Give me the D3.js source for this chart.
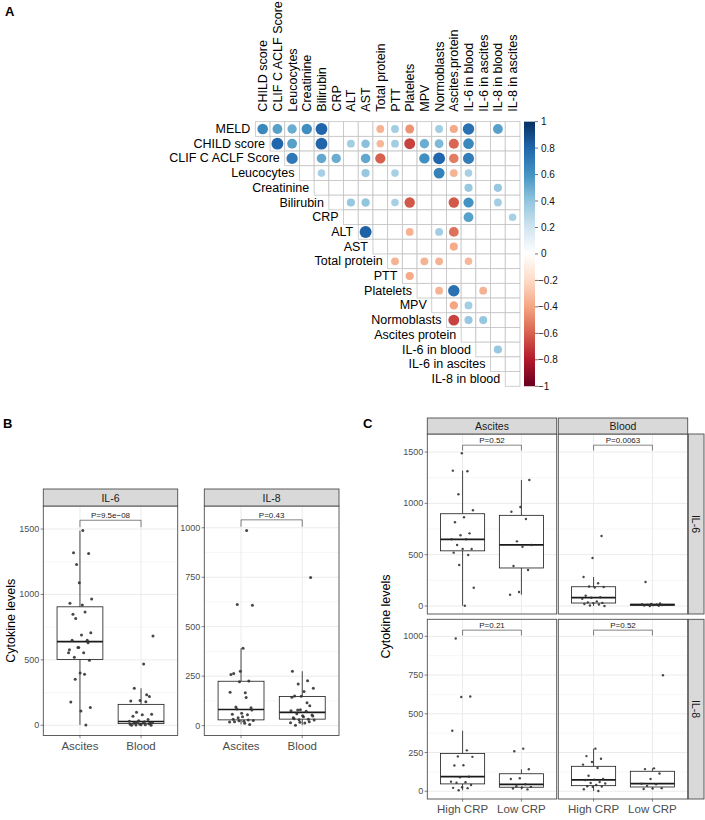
<!DOCTYPE html>
<html><head><meta charset="utf-8">
<script src="https://cdn.jsdelivr.net/npm/d3@7"></script>
<style>body{margin:0;background:#fff}svg{display:block;font-family:"Liberation Sans",Arial,Helvetica,sans-serif}</style>
</head><body><svg id="c" width="705" height="820"></svg>
<script>
// ---------------- DATA ----------------
const rowLabels = ["MELD","CHILD score","CLIF C ACLF Score","Leucocytes","Creatinine","Bilirubin","CRP","ALT","AST","Total protein","PTT","Platelets","MPV","Normoblasts","Ascites protein","IL-6 in blood","IL-6 in ascites","IL-8 in blood"];
const colLabels = ["CHILD score","CLIF C ACLF Score","Leucocytes","Creatinine","Bilirubin","CRP","ALT","AST","Total protein","PTT","Platelets","MPV","Normoblasts","Ascites.protein","IL-6 in blood","IL-6 in ascites","IL-8 in blood","IL-8 in ascites"];
// [row index, column index, correlation]
const corrValues = [
 [0,0,0.65],[0,1,0.55],[0,2,0.5],[0,3,0.62],[0,4,0.8],[0,8,-0.35],[0,9,0.35],[0,10,-0.45],[0,12,0.35],[0,13,-0.38],[0,14,0.75],[0,16,0.55],
 [1,1,0.8],[1,2,0.55],[1,4,0.8],[1,6,0.35],[1,7,0.42],[1,8,-0.33],[1,9,0.35],[1,10,-0.68],[1,11,0.5],[1,12,0.45],[1,13,-0.58],[1,14,0.65],
 [2,2,0.72],[2,4,0.52],[2,5,0.5],[2,7,0.52],[2,8,-0.6],[2,11,0.62],[2,12,0.8],[2,13,-0.52],[2,14,0.7],
 [3,4,0.33],[3,7,0.38],[3,9,0.33],[3,12,0.68],[3,13,-0.35],[3,14,0.33],
 [4,14,0.38],[4,16,0.38],
 [5,6,0.38],[5,7,0.4],[5,9,0.33],[5,10,-0.62],[5,13,-0.62],[5,14,0.6],[5,16,0.35],
 [6,14,0.55],[6,17,0.33],
 [7,7,0.82],[7,10,-0.35],[7,12,0.35],[7,13,-0.55],
 [8,13,-0.38],
 [9,9,-0.35],[9,11,-0.35],[9,12,-0.35],[9,14,-0.33],
 [10,10,-0.38],
 [11,12,-0.35],[11,13,0.75],[11,15,-0.35],
 [12,13,-0.4],[12,14,0.35],
 [13,13,-0.68],[13,14,0.38],[13,15,0.38],
 [15,16,0.38]
];
const colorbarTicks = [1,0.8,0.6,0.4,0.2,0,-0.2,-0.4,-0.6,-0.8,-1];
const rdbu = ["#67001F","#B2182B","#D6604D","#F4A582","#FDDBC7","#FFFFFF","#D1E5F0","#92C5DE","#4393C3","#2166AC","#053061"];

// Cytokine levels by CRP group
const il6AscitesHighCRP = [1488,1319,1313,1089,933,865,816,708,690,650,650,595,555,555,520,497,400,178,3];
const il6AscitesLowCRP  = [1228,965,919,848,630,595,578,390,351,136,110];
const il6BloodHighCRP   = [682,468,283,221,190,185,180,100,85,81,70,45,35,30,28,20,15,5,0];
const il6BloodLowCRP    = [234,25,20,18,15,12,10,8,5,3,0];
const il8AscitesHighCRP = [986,612,608,391,264,225,222,168,166,94,90,62,58,55,40,26,22,20,6];
const il8AscitesLowCRP  = [275,258,142,84,79,45,32,28,24,18,12];
const il8BloodHighCRP   = [275,227,210,189,172,150,100,80,75,73,60,53,50,40,32,30,28,13,2];
const il8BloodLowCRP    = [749,148,143,115,79,49,45,35,20,17,15];

const sites = ["Ascites","Blood"];
const crpGroups = ["High CRP","Low CRP"];
const cytokines = ["IL-6","IL-8"];
const il6Ticks = [0,500,1000,1500];
const il8Ticks = [0,250,500,750,1000];
const il6Domain = [-78,1676];
const il8Domain = [-50,1110];
const bracketLevels = [1567,1040];
const pLabelsB = ["P=9.5e\u221208","P=0.43"];
const pLabelsC = [["P=0.52","P=0.0063"],["P=0.21","P=0.52"]];

// ---------------- DRAW ----------------
const svg = d3.select("#c");
svg.append("rect").attr("width",705).attr("height",820).attr("fill","#fff");

// ===== Panel A: correlation matrix =====
const cell = 14.7;
const gx0 = 255.35, gy0 = 121.65;
const xA = d3.scaleBand().domain(colLabels).range([gx0, gx0 + cell*colLabels.length]);
const yA = d3.scaleBand().domain(rowLabels).range([gy0, gy0 + cell*rowLabels.length]);
const corrColor = d3.scaleLinear().domain(d3.range(11).map(i => -1 + i*0.2)).range(rdbu).interpolate(d3.interpolateRgb);

const gA = svg.append("g");
rowLabels.forEach((r,i) => {
  colLabels.forEach((c,j) => {
    if (j >= i) {
      gA.append("rect").attr("x", xA(c)).attr("y", yA(r)).attr("width", cell).attr("height", cell)
        .attr("fill","#fff").attr("stroke","#C4C4C4").attr("stroke-width",0.8);
    }
  });
});
corrValues.forEach(([i,j,v]) => {
  gA.append("circle")
    .attr("cx", xA(colLabels[j]) + cell/2)
    .attr("cy", yA(rowLabels[i]) + cell/2)
    .attr("r", 0.45*Math.sqrt(Math.abs(v))*cell)
    .attr("fill", corrColor(v));
});
rowLabels.forEach((r,i) => {
  gA.append("text").attr("x", xA(colLabels[i]) - 5).attr("y", yA(r) + cell/2)
    .attr("text-anchor","end").attr("dominant-baseline","central")
    .attr("font-size",12.5).attr("fill","#000").text(r);
});
colLabels.forEach((c) => {
  const cx = xA(c) + cell/2 + 4.5;
  gA.append("text").attr("transform", `translate(${cx},${gy0-10}) rotate(-90)`)
    .attr("text-anchor","start").attr("font-size",12.5).attr("fill","#000").text(c);
});
// colour bar
const defs = svg.append("defs");
const grad = defs.append("linearGradient").attr("id","cb").attr("x1",0).attr("x2",0).attr("y1",1).attr("y2",0);
rdbu.forEach((col,i) => grad.append("stop").attr("offset", i/10).attr("stop-color", col));
const cbY = d3.scaleLinear().domain([-1,1]).range([gy0 + cell*rowLabels.length, gy0]);
gA.append("rect").attr("x",524).attr("y",cbY(1)).attr("width",11).attr("height",cbY(-1)-cbY(1)).attr("fill","url(#cb)");
colorbarTicks.forEach(t => {
  gA.append("line").attr("x1",535).attr("x2",538).attr("y1",cbY(t)).attr("y2",cbY(t)).attr("stroke","#333").attr("stroke-width",0.7);
  gA.append("text").attr("x", t < 0 ? 538 : 541).attr("y", cbY(t)).attr("dominant-baseline","central")
    .attr("font-size",10).attr("fill","#111").text(t < 0 ? "\u2212" + Math.abs(t) : String(t));
});

// ===== Box plot helper =====
function boxStats(vals){
  const s = vals.slice().sort(d3.ascending);
  const q1 = d3.quantile(s,0.25), med = d3.quantile(s,0.5), q3 = d3.quantile(s,0.75);
  const iqr = q3 - q1;
  const lo = d3.min(s.filter(v => v >= q1 - 1.5*iqr));
  const hi = d3.max(s.filter(v => v <= q3 + 1.5*iqr));
  return {q1, med, q3, lo, hi};
}
function jit(i, seed){ return ((((i+1)*0.6180339887 + seed*0.37) % 1) - 0.5) * 0.4; }

function boxPanel(g, o){
  const y = d3.scaleLinear().domain(o.domain).range([o.y1, o.y0]);
  const x = d3.scalePoint().domain(o.cats).range([o.x0, o.x1]).padding(0.6);
  const step = x.step();
  g.append("rect").attr("x",o.x0).attr("y",o.y0).attr("width",o.x1-o.x0).attr("height",o.y1-o.y0).attr("fill","#fff");
  const t = o.ticks, d = t[1]-t[0];
  const minor = [];
  for (let k=0;k<t.length;k++){ const m = t[k]+d/2; if (m < o.domain[1]) minor.push(m); }
  minor.forEach(m => g.append("line").attr("x1",o.x0).attr("x2",o.x1).attr("y1",y(m)).attr("y2",y(m)).attr("stroke","#F2F2F2").attr("stroke-width",0.6));
  t.forEach(v => g.append("line").attr("x1",o.x0).attr("x2",o.x1).attr("y1",y(v)).attr("y2",y(v)).attr("stroke","#EBEBEB").attr("stroke-width",1));
  o.cats.forEach(c => g.append("line").attr("x1",x(c)).attr("x2",x(c)).attr("y1",o.y0).attr("y2",o.y1).attr("stroke","#EBEBEB").attr("stroke-width",1));
  // boxes
  o.groups.forEach((vals, gi) => {
    const cx = x(o.cats[gi]);
    const st = boxStats(vals);
    const hw = 0.75*step/2;
    g.append("line").attr("x1",cx).attr("x2",cx).attr("y1",y(st.hi)).attr("y2",y(st.q3)).attr("stroke","#1a1a1a").attr("stroke-width",0.8);
    g.append("line").attr("x1",cx).attr("x2",cx).attr("y1",y(st.q1)).attr("y2",y(st.lo)).attr("stroke","#1a1a1a").attr("stroke-width",0.8);
    g.append("rect").attr("x",cx-hw).attr("y",y(st.q3)).attr("width",2*hw).attr("height",Math.max(0.5,y(st.q1)-y(st.q3)))
      .attr("fill","#fff").attr("stroke","#1a1a1a").attr("stroke-width",0.8);
    g.append("line").attr("x1",cx-hw).attr("x2",cx+hw).attr("y1",y(st.med)).attr("y2",y(st.med)).attr("stroke","#1a1a1a").attr("stroke-width",1.7);
    vals.forEach((v,i) => {
      g.append("circle").attr("cx", cx + jit(i, gi + o.seed)*step).attr("cy", y(v)).attr("r", o.pr)
        .attr("fill","#333").attr("fill-opacity",0.9);
    });
  });
  // bracket
  const by = y(o.bracket), tip = Math.abs(y(o.bracket) - y(o.bracket - 0.03*(o.domain[1]-o.domain[0])));
  const xa = x(o.cats[0]), xb = x(o.cats[1]);
  g.append("path").attr("d",`M${xa},${by+tip}V${by}H${xb}V${by+tip}`).attr("fill","none").attr("stroke","#333").attr("stroke-width",0.6);
  g.append("text").attr("x",(xa+xb)/2).attr("y",by-2).attr("text-anchor","middle").attr("font-size",8).attr("fill","#1a1a1a").text(o.p);
  // border
  g.append("rect").attr("x",o.x0).attr("y",o.y0).attr("width",o.x1-o.x0).attr("height",o.y1-o.y0).attr("fill","none").attr("stroke","#4D4D4D").attr("stroke-width",0.9);
  // y axis
  if (o.yAxis){
    t.forEach(v => {
      g.append("line").attr("x1",o.x0-2.7).attr("x2",o.x0).attr("y1",y(v)).attr("y2",y(v)).attr("stroke","#333").attr("stroke-width",0.6);
      g.append("text").attr("x",o.x0-4).attr("y",y(v)).attr("dominant-baseline","central").attr("text-anchor","end")
        .attr("font-size",9).attr("fill","#4D4D4D").text(v);
    });
  }
  if (o.xAxis){
    o.cats.forEach(c => {
      g.append("line").attr("x1",x(c)).attr("x2",x(c)).attr("y1",o.y1).attr("y2",o.y1+2.7).attr("stroke","#333").attr("stroke-width",0.6);
      g.append("text").attr("x",x(c)).attr("y",o.y1+14).attr("text-anchor","middle").attr("font-size",11.5).attr("fill","#4D4D4D").text(c);
    });
  }
}
function strip(g, x0, y0, w, h, label, vertical){
  g.append("rect").attr("x",x0).attr("y",y0).attr("width",w).attr("height",h).attr("fill","#D9D9D9").attr("stroke","#4D4D4D").attr("stroke-width",0.9);
  const tx = g.append("text").attr("text-anchor","middle").attr("dominant-baseline","central").attr("font-size",10.5).attr("fill","#1a1a1a").text(label);
  if (vertical) tx.attr("transform",`translate(${x0+w/2},${y0+h/2}) rotate(90)`);
  else tx.attr("x",x0+w/2).attr("y",y0+h/2);
}

// ===== Panel B =====
const gB = svg.append("g");
const bPanels = [{x0:43.3,x1:177.7},{x0:204.3,x1:339}];
const bTop = 506, bBottom = 735.5, bStripTop = 489;
const bGroups = [
  [il6AscitesHighCRP.concat(il6AscitesLowCRP), il6BloodHighCRP.concat(il6BloodLowCRP)],
  [il8AscitesHighCRP.concat(il8AscitesLowCRP), il8BloodHighCRP.concat(il8BloodLowCRP)]
];
cytokines.forEach((ck, k) => {
  const p = bPanels[k];
  boxPanel(gB, {x0:p.x0, x1:p.x1, y0:bTop, y1:bBottom, domain: k===0?il6Domain:il8Domain, ticks: k===0?il6Ticks:il8Ticks,
    cats: sites, groups: bGroups[k], bracket: bracketLevels[k], p: pLabelsB[k], yAxis:true, xAxis:true, pr:1.5, seed:k*3});
  strip(gB, p.x0, bStripTop, p.x1-p.x0, bTop-bStripTop, ck, false);
});
gB.append("text").attr("transform",`translate(15,${(bTop+bBottom)/2}) rotate(-90)`).attr("text-anchor","middle")
  .attr("font-size",12.5).attr("fill","#000").text("Cytokine levels");

// ===== Panel C =====
const gC = svg.append("g");
const cCols = [{x0:427.3,x1:556.7},{x0:558.3,x1:687.7}];
const cRows = [{y0:434,y1:614},{y0:619.3,y1:799}];
const cData = [
  [[il6AscitesHighCRP, il6AscitesLowCRP],[il6BloodHighCRP, il6BloodLowCRP]],
  [[il8AscitesHighCRP, il8AscitesLowCRP],[il8BloodHighCRP, il8BloodLowCRP]]
];
cytokines.forEach((ck, r) => {
  sites.forEach((s, c) => {
    const col = cCols[c], row = cRows[r];
    boxPanel(gC, {x0:col.x0, x1:col.x1, y0:row.y0, y1:row.y1, domain: r===0?il6Domain:il8Domain, ticks: r===0?il6Ticks:il8Ticks,
      cats: crpGroups, groups: cData[r][c], bracket: bracketLevels[r], p: pLabelsC[r][c], yAxis: c===0, xAxis: r===1, pr:1.2, seed: 5 + r*2 + c});
  });
  strip(gC, 688.3, cRows[r].y0, 15.7, cRows[r].y1 - cRows[r].y0, ck, true);
});
sites.forEach((s, c) => strip(gC, cCols[c].x0, 418, cCols[c].x1 - cCols[c].x0, 16, s, false));
gC.append("text").attr("transform",`translate(390,${(434+799)/2}) rotate(-90)`).attr("text-anchor","middle")
  .attr("font-size",12.5).attr("fill","#000").text("Cytokine levels");

// panel letters
svg.append("text").attr("x",5).attr("y",16).attr("font-size",13).attr("font-weight","bold").text("A");
svg.append("text").attr("x",3).attr("y",428).attr("font-size",13).attr("font-weight","bold").text("B");
svg.append("text").attr("x",363).attr("y",428).attr("font-size",13).attr("font-weight","bold").text("C");
</script></body></html>
